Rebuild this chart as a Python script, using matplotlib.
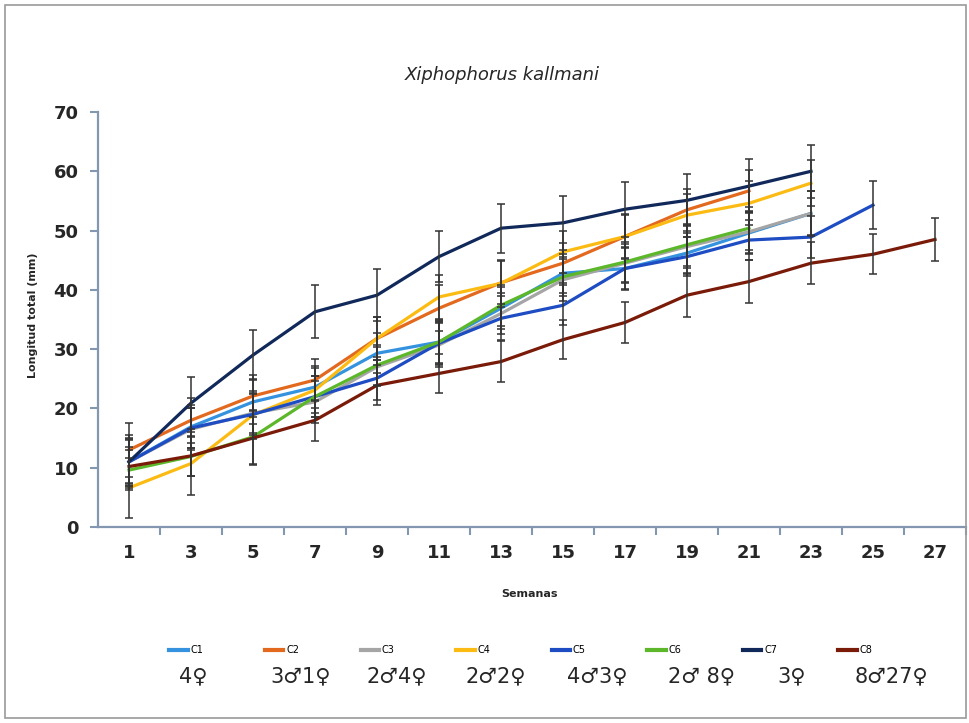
import numpy as np
import matplotlib
matplotlib.use('Agg')
import matplotlib.pyplot as plt
from matplotlib.patches import Rectangle

# semanas (categorias del eje x)
weeks = [1, 3, 5, 7, 9, 11, 13, 15, 17, 19, 21, 23, 25, 27]

# longitud total promedio (mm) por cultivo
c1 = [11.0, 16.9, 21.1, 23.6, 29.3, 31.2, 36.9, 42.8, 43.6, 46.2, 49.6, 52.9]
c2 = [13.0, 18.0, 22.1, 24.8, 31.8, 36.9, 41.2, 44.5, 49.0, 53.5, 56.7]
c3 = [11.0, 16.5, 19.2, 21.1, 27.0, 30.7, 36.0, 41.7, 44.5, 47.3, 49.8, 52.9]
c4 = [6.6, 10.7, 18.9, 23.1, 31.8, 38.8, 41.1, 46.4, 49.0, 52.6, 54.6, 58.0]
c5 = [11.0, 16.7, 19.0, 22.0, 25.1, 31.0, 35.2, 37.4, 43.6, 45.6, 48.4, 48.9, 54.3]
c6 = [9.6, 11.9, 15.2, 22.0, 27.3, 31.2, 37.4, 42.2, 44.7, 47.6, 50.4]
c7 = [11.0, 20.9, 29.0, 36.3, 39.1, 45.6, 50.4, 51.3, 53.6, 55.1, 57.5, 60.0]
c8 = [10.2, 12.0, 15.0, 18.0, 23.9, 25.9, 27.9, 31.6, 34.5, 39.1, 41.4, 44.5, 46.0, 48.5]

# desviacion estandar (barras de error)
e1 = [4.0, 3.6, 3.8, 3.6, 3.4, 3.8, 3.5, 3.3, 3.6, 3.4, 3.6, 3.8]
e2 = [4.5, 3.8, 3.6, 3.5, 3.7, 3.9, 3.6, 3.4, 3.7, 3.5, 3.6]
e3 = [3.8, 3.5, 3.4, 3.6, 3.3, 3.7, 3.4, 3.5, 3.3, 3.6, 3.5, 3.7]
e4 = [5.1, 5.3, 4.0, 3.8, 3.6, 3.7, 4.0, 3.5, 3.8, 3.6, 3.7, 3.9]
e5 = [3.6, 3.4, 3.5, 3.4, 3.6, 3.5, 3.7, 3.4, 3.5, 3.3, 3.4, 3.6, 4.0]
e6 = [3.4, 3.3, 4.6, 3.5, 3.4, 3.6, 3.5, 3.3, 3.4, 3.5, 3.6]
e7 = [4.5, 4.4, 4.2, 4.5, 4.4, 4.3, 4.1, 4.5, 4.6, 4.4, 4.5, 4.5]
e8 = [3.3, 3.4, 4.5, 3.5, 3.4, 3.3, 3.4, 3.3, 3.5, 3.6, 3.6, 3.5, 3.4, 3.6]

names = ['C1', 'C2', 'C3', 'C4', 'C5', 'C6', 'C7', 'C8']
sexes = ['4\u2640', '3\u26421\u2640', '2\u26424\u2640', '2\u26422\u2640',
         '4\u26423\u2640', '2\u2642 8\u2640', '3\u2640', '8\u264227\u2640']
series = [c1, c2, c3, c4, c5, c6, c7, c8]
errors = [e1, e2, e3, e4, e5, e6, e7, e8]
colors = ['#3492de', '#e2691e', '#a5a5a5', '#fbbb12', '#1e4cc2', '#5cb82a', '#10295a', '#7a1a08']

fig = plt.figure(figsize=(9.69, 7.23), dpi=100)
ax = fig.add_axes([98/969, 1-527/723, 868/969, 415/723])

for s, e in zip(series, errors):
    x = weeks[:len(s)]
    ax.errorbar(x, s, yerr=e, fmt='none', ecolor='#333333', elinewidth=1.1,
                capsize=3, capthick=1.1, zorder=3)

lines = []
for s, name, c in zip(series, names, colors):
    ln, = ax.plot(weeks[:len(s)], s, color=c, lw=2.3, label=name, zorder=2)
    lines.append(ln)

ax.set_xlim(0, 28)
ax.set_ylim(0, 70)
ax.set_yticks(np.arange(0, 71, 10))
ax.set_xticks(np.arange(2, 29, 2))
ax.set_xticklabels([])
ax.set_xticks(weeks, minor=True)
ax.set_xticklabels([str(w) for w in weeks], minor=True)
ax.tick_params(axis='x', which='major', length=6, width=1.5, color='#8497b0', direction='out')
ax.tick_params(axis='x', which='minor', length=0, pad=12, labelsize=13)
ax.tick_params(axis='y', length=6, width=1.5, color='#8497b0', labelsize=13, pad=8)
for lab in ax.get_xticklabels(minor=True) + ax.get_yticklabels():
    lab.set_fontweight('bold')
    lab.set_color('#262626')

for sp in ['top', 'right']:
    ax.spines[sp].set_visible(False)
for sp in ['left', 'bottom']:
    ax.spines[sp].set_color('#8497b0')
    ax.spines[sp].set_linewidth(1.6)

fig.text(502/969, 1-75/723, 'Xiphophorus kallmani', style='italic', fontsize=13,
         ha='center', va='center', color='#262626')
fig.text(33/969, 1-315/723, 'Longitud total (mm)', rotation=90, fontsize=8,
         fontweight='bold', ha='center', va='center', color='#262626')
fig.text(530/969, 1-594/723, 'Semanas', fontsize=8, fontweight='bold',
         ha='center', va='center', color='#262626')

leg = fig.legend(handles=lines, loc='center', bbox_to_anchor=(521/969, 1-650/723), ncol=8,
                 frameon=False, fontsize=7, handlelength=1.9, handletextpad=0.3,
                 columnspacing=6.3)
for h in leg.get_lines():
    h.set_linewidth(3)

sex_x = [193, 301, 397, 496, 597, 702, 792, 891]
for sx, txt in zip(sex_x, sexes):
    fig.text(sx/969, 1-676/723, txt, fontsize=15, ha='center', va='center', color='#262626')

fig.patches.append(Rectangle((5/969, 5/723), 961/969, 713/723, transform=fig.transFigure,
                             fill=False, edgecolor='#9a9a9a', lw=1.2))

fig.savefig('out.png', dpi=100)
